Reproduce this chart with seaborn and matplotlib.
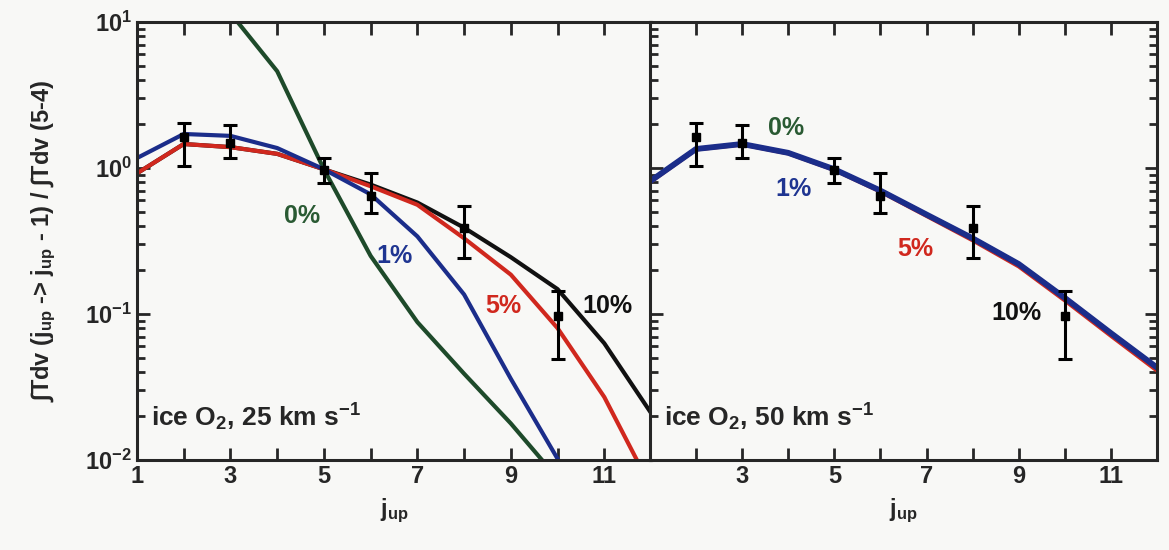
import matplotlib
matplotlib.use("Agg")
import matplotlib.pyplot as plt
import numpy as np
import pandas as pd
import seaborn as sns

# j_up grid for the model curves
j_up = [1, 2, 3, 4, 5, 6, 7, 8, 9, 10, 11, 12]

# ice O2, 25 km/s models (ratio to 5-4)
left_0 = [40.0, 22.0, 11.5, 4.6, 0.98, 0.25, 0.088, 0.039, 0.0178, 0.0075, 0.003, 0.0012]
left_1 = [1.17, 1.71, 1.66, 1.37, 0.98, 0.66, 0.34, 0.136, 0.036, 0.0102, 0.0025, 0.0006]
left_5 = [0.92, 1.46, 1.39, 1.25, 0.98, 0.75, 0.56, 0.33, 0.186, 0.080, 0.027, 0.0065]
left_10 = [0.92, 1.46, 1.39, 1.25, 0.98, 0.77, 0.58, 0.39, 0.245, 0.148, 0.063, 0.021]

# ice O2, 50 km/s models (curves almost overlap)
right_0 = [0.81, 1.35, 1.46, 1.27, 0.98, 0.70, 0.48, 0.33, 0.22, 0.129, 0.074, 0.043]
right_1 = [0.81, 1.35, 1.46, 1.27, 0.98, 0.70, 0.48, 0.33, 0.22, 0.129, 0.074, 0.043]
right_5 = [0.80, 1.34, 1.45, 1.26, 0.97, 0.69, 0.47, 0.32, 0.212, 0.124, 0.071, 0.041]
right_10 = [0.81, 1.35, 1.46, 1.27, 0.98, 0.70, 0.48, 0.33, 0.22, 0.129, 0.074, 0.043]

# observed line ratios
obs_j = [2, 3, 5, 6, 8, 10]
obs_val = [1.62, 1.48, 0.97, 0.64, 0.39, 0.097]
obs_lo = [1.03, 1.17, 0.79, 0.49, 0.24, 0.049]
obs_hi = [2.03, 1.97, 1.17, 0.92, 0.55, 0.143]

labels = ["0%", "1%", "5%", "10%"]
colors = ["#1e4a2a", "#1b2d8a", "#d0281e", "#111111"]
text_colors = ["#2a5a33", "#1f3591", "#d0281e", "#111111"]

sns.set_style("ticks")
plt.rcParams["font.family"] = ["Liberation Sans", "DejaVu Sans"]
plt.rcParams["font.weight"] = "bold"
plt.rcParams["axes.unicode_minus"] = False
plt.rcParams["mathtext.fontset"] = "custom"
plt.rcParams["mathtext.rm"] = "Liberation Sans:bold"
plt.rcParams["mathtext.it"] = "Liberation Sans:bold"
plt.rcParams["mathtext.bf"] = "Liberation Sans:bold"
plt.rcParams["mathtext.sf"] = "Liberation Sans:bold"

bg = "#f8f8f6"
fig = plt.figure(figsize=(11.69, 5.5), dpi=100, facecolor=bg)
ax1 = fig.add_axes([0.1172, 0.1636, 0.4397, 0.7964])
ax2 = fig.add_axes([0.5560, 0.1636, 0.4337, 0.7964])


def draw_panel(ax, curves, order, thick_blue=False):
    df = pd.DataFrame({"j": j_up * 4,
                       "val": sum(curves, []),
                       "model": sum([[lab] * len(j_up) for lab in labels], [])})
    for lab in order:
        i = labels.index(lab)
        lw = 3.0
        if lab == "1%" and thick_blue:
            lw = 4.2
        sns.lineplot(data=df[df["model"] == lab], x="j", y="val", color=colors[i],
                     lw=lw, ax=ax, legend=False, zorder=2)
    yerr = [np.array(obs_val) - np.array(obs_lo), np.array(obs_hi) - np.array(obs_val)]
    ax.errorbar(obs_j, obs_val, yerr=yerr, fmt="s", color="black", ms=6,
                elinewidth=2.2, capsize=5, capthick=2.2, zorder=4)
    ax.set_yscale("log")
    ax.set_xlim(1, 12)
    ax.set_ylim(0.01, 10)
    ax.set_facecolor(bg)
    ax.set_xticks(range(1, 13))
    ax.tick_params(axis="both", which="both", direction="in", top=True, right=True,
                   labelsize=17, width=2)
    ax.tick_params(axis="both", which="major", length=9)
    ax.tick_params(axis="y", which="minor", length=6)
    for s in ax.spines.values():
        s.set_linewidth(2.2)
    ax.set_xlabel("j$_{up}$", fontsize=17, fontweight="bold", labelpad=6)
    ax.set_ylabel("")


draw_panel(ax1, [left_0, left_1, left_5, left_10], ["0%", "10%", "5%", "1%"])
draw_panel(ax2, [right_0, right_1, right_5, right_10], ["0%", "10%", "5%", "1%"], thick_blue=True)

ax1.set_xticklabels([str(j) if j % 2 == 1 else "" for j in range(1, 13)])
ax2.set_xticklabels([str(j) if (j % 2 == 1 and j > 1) else "" for j in range(1, 13)])
ax2.set_yticklabels([], minor=False)
ax2.set_yticklabels([], minor=True)
ax1.tick_params(axis="y", right=False, which="both")

ax1.set_ylabel(r"$\int$Tdv (j$_{up}$ -> j$_{up}$ - 1) / $\int$Tdv (5-4)",
               fontsize=17, fontweight="bold", labelpad=20)

# annotations
kw = dict(fontsize=18, fontweight="bold", ha="center", va="center")
ax1.text(4.53, 0.47, labels[0], color=text_colors[0], **kw)
ax1.text(6.52, 0.25, labels[1], color=text_colors[1], **kw)
ax1.text(8.84, 0.113, labels[2], color=text_colors[2], **kw)
ax1.text(11.06, 0.113, labels[3], color=text_colors[3], **kw)
ax1.text(1.3, 0.0195, "ice O$_2$, 25 km s$^{-1}$", fontsize=19, fontweight="bold", ha="left", va="center")

ax2.text(3.95, 1.88, labels[0], color=text_colors[0], **kw)
ax2.text(4.12, 0.72, labels[1], color=text_colors[1], **kw)
ax2.text(6.76, 0.28, labels[2], color=text_colors[2], **kw)
ax2.text(8.96, 0.102, labels[3], color=text_colors[3], **kw)
ax2.text(1.3, 0.0195, "ice O$_2$, 50 km s$^{-1}$", fontsize=19, fontweight="bold", ha="left", va="center")

fig.savefig("out.png", dpi=100, facecolor=bg)
